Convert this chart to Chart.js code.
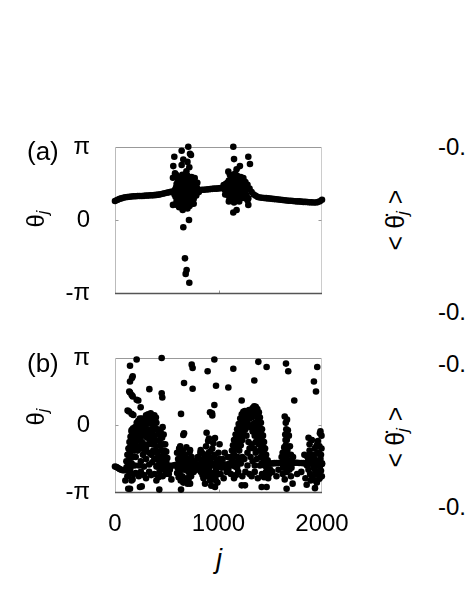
<!DOCTYPE html>
<html>
<head>
<meta charset="utf-8">
<script src="https://cdn.jsdelivr.net/npm/chart.js@4.4.0/dist/chart.umd.min.js"></script>
<style>
body { margin: 0; background: #fff; }
#page { position: relative; width: 469px; height: 607px; overflow: hidden; font-family: "Liberation Sans", Arial, sans-serif; color: #000; }
.box { position: absolute; left: 0; }
.lbl { position: absolute; white-space: nowrap; line-height: 1; }
.rot { transform: translate(-50%, -50%) rotate(-90deg); }
.lbl sub { font-size: 0.68em; vertical-align: -0.25em; }
</style>
</head>
<body>
<div id="page">
  <div class="box" style="top:120px"><canvas id="chartA" width="360" height="190"></canvas></div>
  <div class="box" style="top:330px"><canvas id="chartB" width="360" height="210"></canvas></div>

  <div class="lbl" style="left:27px;top:138px;font-size:26px">(a)</div>
  <div class="lbl" style="left:27px;top:350px;font-size:26px">(b)</div>
  <div class="lbl rot" style="left:37px;top:219px;font-size:24px">θ<sub><i>j</i></sub></div>
  <div class="lbl rot" style="left:37px;top:417px;font-size:24px">θ<sub><i>j</i></sub></div>
  <div class="lbl" style="left:216px;top:546px;font-size:27px;font-style:italic">j</div>

  <div class="lbl rot" style="left:397px;top:220px;font-size:25px">&lt; θ&#775;<sub><i>j</i></sub> &gt;</div>
  <div class="lbl rot" style="left:397px;top:437px;font-size:25px">&lt; θ&#775;<sub><i>j</i></sub> &gt;</div>
  <div class="lbl" style="left:438px;top:135px;font-size:24px">-0.</div>
  <div class="lbl" style="left:438px;top:300px;font-size:24px">-0.</div>
  <div class="lbl" style="left:438px;top:352px;font-size:24px">-0.</div>
  <div class="lbl" style="left:438px;top:495px;font-size:24px">-0.</div>
</div>

<script>
// axes
const xTicks = [0, 1000, 2000];
const yTickValues = [-Math.PI, 0, Math.PI];
const yTickLabels = ['-π', '0', 'π'];

// panel (a): smooth band of oscillators [j, theta]
const aBaseline = [
  [0,0.82],[20,0.86],[40,0.9],[60,0.93],[80,0.96],[100,0.98],[120,0.99],[140,1.0],[160,1.01],[180,1.02],
  [200,1.02],[220,1.03],[240,1.03],[260,1.03],[280,1.04],[300,1.05],[320,1.05],[340,1.06],[360,1.06],[380,1.07],
  [400,1.08],[420,1.09],[440,1.11],[460,1.13],[480,1.15],[500,1.17],[520,1.19],[540,1.21],[560,1.22],[580,1.23],
  [600,1.24],[620,1.25],[640,1.25],[660,1.26],[680,1.26],[700,1.27],[720,1.27],[740,1.28],[760,1.28],[780,1.29],
  [800,1.29],[820,1.29],[840,1.3],[860,1.3],[880,1.31],[900,1.32],[920,1.33],[940,1.34],[960,1.35],[980,1.35],
  [1000,1.36],[1020,1.37],[1040,1.38],[1060,1.39],[1080,1.4],[1100,1.41],[1120,1.42],[1140,1.43],[1160,1.44],[1180,1.45],
  [1200,1.47],[1220,1.5],[1240,1.58],[1260,1.63],[1280,1.52],[1300,1.35],[1320,1.2],[1340,1.1],[1360,1.04],[1380,0.99],
  [1400,0.97],[1420,0.96],[1440,0.95],[1460,0.94],[1480,0.93],[1500,0.92],[1520,0.91],[1540,0.9],[1560,0.89],[1580,0.88],
  [1600,0.87],[1620,0.86],[1640,0.85],[1660,0.84],[1680,0.83],[1700,0.83],[1720,0.82],[1740,0.81],[1760,0.8],[1780,0.8],
  [1800,0.79],[1820,0.78],[1840,0.78],[1860,0.77],[1880,0.76],[1900,0.76],[1920,0.75],[1940,0.75],[1960,0.77],[1980,0.81],[2000,0.87]
];
// panel (a): incoherent clusters
const aCluster1 = [
  [585,1.0],[590,1.4],[595,0.8],[600,1.2],[605,1.6],[610,0.9],[615,1.3],[620,1.05],[625,1.7],[630,0.75],
  [635,1.15],[640,1.45],[645,0.95],[650,1.25],[655,1.85],[660,0.7],[665,1.1],[670,1.5],[675,0.9],[680,1.3],
  [685,1.65],[690,1.0],[695,1.4],[700,0.8],[705,1.2],[710,1.55],[715,1.0],[720,1.35],[725,1.75],[730,0.9],
  [735,1.2],[740,1.5],[745,1.05],[750,1.35],[755,1.65],[760,1.1],[765,1.45],[770,1.25],[775,1.55],[780,1.2],
  [790,1.4],[800,1.3],[600,0.65],[640,0.6],[680,0.55],[720,0.6],[610,1.75],[650,1.95],[700,1.9],[740,1.85],
  [770,1.8],[590,1.95],
  [580,1.3],[595,1.55],[605,1.05],[615,0.85],[625,1.35],[635,0.95],[645,1.65],[655,1.05],[665,1.35],[675,1.7],
  [685,0.85],[695,1.2],[705,1.6],[715,1.45],[725,1.1],[735,0.8],[745,1.6],[755,0.95],[765,1.2],[785,1.05],
  [795,1.6],[620,1.85],[680,1.9],[760,1.75],[575,1.1],[810,1.2],[700,0.65],[650,0.8],[760,0.7]
];
const aCluster2 = [
  [1060,1.3],[1070,1.55],[1080,1.1],[1090,1.4],[1100,1.7],[1105,1.0],[1115,1.25],[1120,1.55],[1130,0.9],[1135,1.35],
  [1140,1.75],[1150,1.1],[1155,1.45],[1165,0.85],[1170,1.3],[1175,1.6],[1185,1.05],[1190,1.4],[1200,1.7],[1205,1.15],
  [1215,1.5],[1220,0.95],[1230,1.3],[1235,1.6],[1245,1.15],[1250,1.45],[1260,1.25],[1270,1.05],[1280,0.85],[1100,0.8],
  [1150,0.75],[1200,0.8],[1240,1.8],[1120,1.85],[1180,1.9],
  [1050,1.5],[1065,1.1],[1075,1.35],[1085,1.6],[1095,1.2],[1110,1.45],[1125,1.1],[1135,1.6],[1145,1.3],[1160,1.65],
  [1170,1.0],[1180,1.5],[1195,1.2],[1210,1.35],[1225,1.7],[1240,1.35],[1255,1.6],[1265,1.45],[1275,1.3],[1130,1.9],
  [1215,1.85],[1110,0.9],[1250,0.95],[1190,0.85]
];
const aOutliers = [
  [708,3.15],[644,2.98],[734,2.8],[725,2.85],[573,2.72],[563,2.32],[644,2.37],[718,2.27],[580,2.01],[686,1.94],
  [660,2.6],[700,2.5],[690,2.1],[560,1.82],[715,0.0],[660,-0.31],[676,-1.65],[683,-2.32],[692,-2.15],[718,-2.7],
  [560,0.65],[654,0.43],[740,0.7],[760,0.9],[620,0.55],[700,0.5],
  [1143,3.15],[1150,2.62],[1288,2.72],[1304,2.41],[1207,2.32],[1175,2.18],[1095,2.08],[1143,0.32],[1175,0.43],[1288,0.65],
  [1288,0.93],[1110,1.95],[1160,2.0]
];

// panel (b)
const bBaseline = [
  [0,-1.95],[15,-1.97],[30,-2.02],[45,-2.06],[60,-2.1],[75,-2.12],[90,-2.12],[105,-2.1],[120,-2.0],
  [500,-1.88],[520,-1.9],[540,-1.92],[560,-1.9],[580,-1.88],[600,-1.86],[620,-1.85],[640,-1.85],[660,-1.86],[680,-1.87],
  [700,-1.86],[720,-1.85],[740,-1.84],[760,-1.84],[780,-1.85],[800,-1.86],[820,-1.86],[840,-1.85],[860,-1.85],[880,-1.86],
  [900,-1.86],[920,-1.85],[940,-1.84],[960,-1.84],[980,-1.85],[1000,-1.86],[1020,-1.86],[1040,-1.85],[1060,-1.85],[1080,-1.86],
  [1100,-1.86],[1120,-1.85],
  [1500,-1.82],[1520,-1.8],[1540,-1.79],[1560,-1.79],[1580,-1.78],[1600,-1.78],[1620,-1.78],[1640,-1.79],[1660,-1.8],[1680,-1.8],
  [1700,-1.79],[1720,-1.78],[1740,-1.77],[1760,-1.77],[1780,-1.78],[1800,-1.78],[1820,-1.79],[1840,-1.8],[1860,-1.8],[1880,-1.8],
  [1900,-1.8],[1920,-1.81],[1940,-1.82],[1960,-1.82],[1980,-1.82],[2000,-1.83]
];
const bHump1 = [
  [130,-1.9],[140,-1.6],[150,-1.3],[160,-1.0],[170,-0.75],[185,-0.5],[200,-0.3],[215,-0.1],[230,0.05],[245,0.15],
  [110,-1.7],[120,-1.4],[130,-1.1],[140,-0.8],[150,-0.55],[160,-0.3],[175,-0.15],
  [160,-1.8],[175,-1.5],[190,-1.2],[205,-0.95],[220,-0.7],[235,-0.45],[250,-0.2],[265,0.0],
  [280,0.15],[295,0.25],[310,0.3],[325,0.38],[340,0.4],[355,0.35],[370,0.3],[385,0.2],[400,0.1],
  [270,-0.2],[290,-0.05],[310,0.05],[330,0.1],[350,0.1],[370,0.0],[390,-0.15],
  [280,-0.5],[300,-0.35],[320,-0.25],[345,-0.2],[365,-0.3],
  [410,-0.2],[420,-0.45],[430,-0.7],[440,-0.95],[450,-1.2],[460,-1.45],[470,-1.65],[480,-1.8],
  [380,-0.5],[390,-0.75],[400,-1.0],[410,-1.25],[420,-1.5],[430,-1.75],
  [440,-0.3],[455,-0.6],[465,-0.9],[475,-1.2],[485,-1.5],[495,-1.7],
  [200,-1.5],[220,-1.2],[240,-1.0],[260,-0.8],[280,-0.9],[300,-1.1],[320,-0.9],[340,-0.7],[360,-0.9],[370,-1.2],
  [350,-1.4],[330,-1.3],[300,-1.6],[270,-1.4],[250,-1.7],[230,-1.9],[280,-1.95],[330,-1.85],[380,-1.6],[400,-1.95],[360,-1.75],
  [120,-2.4],[140,-2.3],[160,-2.6],[180,-2.3],[250,-2.2],[280,-2.35],[300,-2.5],[330,-2.2],[380,-2.3],[400,-2.6],
  [430,-2.2],[460,-2.4],[480,-2.1],[100,-2.6],
  [125,-1.9],[135,-1.35],[145,-1.05],[155,-0.8],[165,-0.55],[180,-0.35],[195,-0.1],[210,0.1],[225,0.2],[240,0.3],
  [255,0.1],[180,-1.0],[195,-0.75],[210,-0.5],[225,-0.3],[240,-0.6],[255,-0.45],[265,-1.1],[285,-1.2],[310,-0.6],
  [330,-0.5],[350,-0.55],[375,-0.7],[395,-1.3],[405,-1.6],[415,-1.9],[440,-1.5],[450,-1.85],[460,-0.1],[470,-0.45],
  [485,-0.9],[495,-1.25],[505,-1.55],[300,0.45],[320,0.5],[345,0.55],[260,0.3],[380,0.45],[395,0.35],[110,-2.0],
  [150,-2.0],[190,-1.9],[440,-1.95],[470,-1.95],[145,-2.2],[200,-2.25],[230,-2.4],[350,-2.35],[420,-2.45],[450,-2.05],
  [490,-2.3],[170,-2.55]
];
const bHump2 = [
  [1110,-1.8],[1120,-1.5],[1130,-1.2],[1140,-0.95],[1150,-0.7],[1165,-0.45],[1180,-0.2],[1195,0.05],[1210,0.3],[1225,0.5],
  [1140,-1.7],[1150,-1.4],[1160,-1.1],[1170,-0.85],[1185,-0.6],[1200,-0.35],[1215,-0.1],[1230,0.15],[1245,0.4],
  [1170,-1.8],[1185,-1.5],[1200,-1.2],[1215,-0.95],[1230,-0.7],[1245,-0.45],[1260,-0.2],[1270,0.1],
  [1240,0.62],[1255,0.65],[1270,0.55],[1285,0.5],[1300,0.6],[1315,0.7],[1330,0.8],[1345,0.88],[1360,0.85],[1375,0.75],[1390,0.6],
  [1280,0.25],[1300,0.3],[1320,0.35],[1340,0.4],[1360,0.45],[1380,0.3],[1290,0.0],[1310,-0.1],[1335,0.05],[1355,0.1],[1375,0.0],
  [1400,0.35],[1410,0.1],[1420,-0.2],[1430,-0.5],[1440,-0.8],[1450,-1.1],[1460,-1.4],[1475,-1.65],[1490,-1.8],
  [1370,-0.3],[1380,-0.6],[1390,-0.9],[1400,-1.2],[1410,-1.5],[1420,-1.8],
  [1350,-0.5],[1360,-0.8],[1345,-1.1],[1360,-1.3],[1370,-1.6],
  [1270,-0.5],[1290,-0.8],[1300,-1.1],[1320,-0.9],[1280,-1.3],[1310,-1.5],[1250,-1.6],[1330,-1.7],[1280,-1.9],[1330,-0.3],
  [1120,-2.3],[1150,-2.5],[1190,-2.2],[1230,-2.4],[1260,-2.2],[1300,-2.3],[1350,-2.2],[1380,-2.5],[1420,-2.3],[1460,-2.2],[1480,-2.5],
  [1125,-1.9],[1135,-1.65],[1145,-1.25],[1155,-1.0],[1165,-0.75],[1175,-0.5],[1190,-0.25],[1205,-0.05],[1220,0.25],[1235,0.35],
  [1250,0.5],[1265,0.35],[1190,-0.95],[1205,-0.7],[1220,-0.45],[1240,-0.2],[1255,0.05],[1280,0.6],[1295,0.7],[1310,0.5],
  [1325,0.6],[1340,0.65],[1355,0.7],[1370,0.6],[1385,0.45],[1395,0.15],[1405,-0.15],[1415,-0.45],[1425,-0.75],[1435,-1.05],
  [1445,-1.35],[1455,-1.6],[1470,-1.85],[1385,-0.15],[1395,-0.45],[1405,-0.75],[1415,-1.05],[1425,-1.35],[1435,-1.6],[1445,-1.9],
  [1360,-0.1],[1350,-1.9],[1230,-1.5],[1215,-1.8],[1200,-1.65],[1160,-1.95],[1180,-2.0],[1400,-1.9],[1460,-1.95],[1500,-2.1],
  [1490,-2.3],[1170,-2.35],[1320,-2.4],[1440,-2.45]
];
const bClusters = [
  [600,-1.3],[610,-1.6],[620,-1.1],[625,-2.2],[635,-1.45],[640,-1.8],[650,-2.4],[655,-1.2],[665,-1.65],[670,-2.1],
  [680,-1.4],[690,-2.5],[695,-1.9],[705,-1.6],[710,-2.2],[720,-1.3],[730,-1.75],[735,-2.4],[745,-2.05],[615,-2.45],
  [660,-2.7],[700,-2.75],[630,-1.0],[690,-1.05],
  [605,-2.0],[620,-1.75],[645,-1.35],[655,-2.05],[675,-1.85],[685,-1.55],[700,-2.1],[715,-1.85],[725,-2.3],[740,-1.5],
  [750,-1.95],[760,-2.2],[635,-2.6],[710,-2.55],[600,-2.25],[770,-1.7],
  [820,-1.6],[830,-2.2],[840,-1.3],[850,-1.9],[855,-2.5],[865,-1.5],[875,-2.1],[880,-1.0],[890,-1.7],[895,-2.4],
  [905,-1.3],[910,-2.0],[920,-2.6],[925,-1.6],[935,-2.25],[940,-1.1],[950,-1.85],[960,-2.45],[965,-1.4],[975,-2.1],
  [985,-1.65],[990,-2.7],[1000,-1.3],[1005,-2.3],[870,-2.75],[930,-2.85],[950,-0.85],[900,-0.75],[1010,-0.9],
  [815,-2.0],[825,-1.3],[845,-2.35],[860,-1.75],[870,-2.3],[885,-1.4],[900,-2.2],[915,-1.55],[930,-1.9],[945,-2.5],
  [955,-1.5],[970,-1.8],[980,-2.35],[995,-1.95],[1010,-1.6],[890,-2.0],[860,-2.05],[920,-1.25],[975,-2.6],[1030,-2.0],
  [1040,-1.6],[1070,-2.0],[1095,-2.1],[790,-2.1],[800,-1.5],
  [520,-2.3],[545,-2.55],[530,-2.1],[1020,-2.3],[1050,-2.5],[1080,-2.2],[1060,-1.3],[1090,-1.5],
  [1640,0.4],[1650,0.1],[1655,-0.2],[1645,-0.45],[1660,-0.7],[1650,-0.95],[1665,-1.2],[1655,-1.45],[1670,-1.65],[1680,-0.5],
  [1690,-1.0],[1700,-1.4],[1620,-1.3],[1630,-1.6],[1710,-1.7],[1620,-2.3],[1660,-2.2],[1700,-2.4],[1640,-2.55],
  [1610,-1.5],[1625,-2.0],[1645,-1.7],[1660,-1.95],[1675,-1.4],[1685,-2.1],[1695,-1.75],[1705,-2.0],[1720,-1.5],[1648,-0.7],
  [1662,0.25],[1670,-0.25],[1635,-1.05],
  [1860,-1.5],[1870,-2.1],[1880,-1.2],[1890,-1.8],[1900,-0.7],[1905,-2.4],[1915,-1.4],[1920,-2.0],[1930,-1.1],[1940,-1.65],
  [1945,-2.3],[1955,-0.9],[1960,-1.9],[1970,-1.3],[1975,-2.5],[1985,-1.6],[1990,-2.15],[1995,-0.5],[2000,-1.8],[1985,-0.3],
  [1890,-2.6],[1950,-2.7],[1995,-1.1],
  [1855,-1.9],[1865,-1.7],[1875,-1.45],[1885,-2.3],[1895,-1.55],[1910,-1.75],[1925,-1.6],[1935,-2.15],[1950,-1.35],[1965,-2.2],
  [1980,-1.95],[1990,-1.4],[1998,-2.4],[1915,-2.55],[1960,-0.75],[1975,-1.0],[1945,-1.0],[1880,-0.9],[1870,-0.6],
  [1520,-2.2],[1560,-2.4],[1580,-2.1],[1800,-2.2],[1760,-2.3],[1830,-1.4],[1840,-2.5]
];
const bOutliers = [
  [209,3.07],[451,3.14],[145,2.78],[741,2.83],[750,2.67],[960,3.07],[895,2.52],[171,2.28],[145,2.04],[667,1.97],
  [750,1.7],[976,1.84],[332,1.68],[451,1.49],[457,1.29],[145,1.52],[171,1.34],[225,1.15],[248,0.83],[135,0.63],
  [177,0.47],[638,0.52],[918,0.6],[960,0.94],[161,-0.24],[667,-0.39],[885,-0.36],[908,-0.63],[828,-1.18],[725,-1.18],
  [145,-2.99],[241,-2.91],[428,-3.03],[638,-3.03],[725,-2.75],[966,-2.91],
  [1385,2.96],[1465,2.72],[1652,2.88],[1674,2.52],[1954,2.72],[1143,2.64],[1346,2.09],[1095,1.76],[1922,2.04],[1942,1.57],
  [1224,1.15],[1732,1.15],[966,-0.61],[1900,-0.71],[1980,-0.39],
  [1224,-2.83],[1256,-2.83],[1417,-2.91],[1465,-2.91],[1716,-2.75],[1658,-2.99],[1852,-2.8],[1932,-2.96],[1974,-2.52],
  [164,2.2],[138,1.57],[161,1.41],[209,1.18],[122,0.68],[161,0.52],[937,0.55],[940,0.45],[660,-0.47],[128,-2.99],
  [258,-2.88],[1948,-2.67]
];

const tickFont = { family: '"Liberation Sans", Arial, sans-serif', size: 24 };

function seg(ctx, x1, y1, x2, y2, color) {
  ctx.strokeStyle = color;
  ctx.beginPath();
  ctx.moveTo(x1, y1);
  ctx.lineTo(x2, y2);
  ctx.stroke();
}

// box around the plot with small inward ticks
const framePlugin = {
  id: 'frame',
  beforeDatasetsDraw(chart) {
    const ctx = chart.ctx;
    const a = chart.chartArea;
    const l = Math.round(a.left) + 0.5, r = Math.round(a.right) - 0.5;
    const t = Math.round(a.top) + 0.5, b = Math.round(a.bottom) + 0.5;
    ctx.save();
    ctx.lineWidth = 1;
    seg(ctx, l, t, r, t, '#999');
    seg(ctx, l, t, l, b, '#bbb');
    seg(ctx, r, t, r, b, '#ccc');
    const y0 = Math.round(chart.scales.y.getPixelForValue(0)) + 0.5;
    seg(ctx, l, y0, l + 3, y0, '#999');
    seg(ctx, r - 3, y0, r, y0, '#999');
    const x1 = Math.round(chart.scales.x.getPixelForValue(1000)) + 0.5;
    seg(ctx, x1, b, x1, b - 3, '#999');
    ctx.lineWidth = 1.5;
    seg(ctx, l - 0.5, b, r + 0.5, b, '#555');
    ctx.restore();
  }
};

function toXY(list) {
  return list.map(p => ({ x: p[0], y: p[1] }));
}

function makeChart(id, points, showX, padTop, xHeight) {
  return new Chart(document.getElementById(id), {
    type: 'scatter',
    data: {
      datasets: [{
        data: toXY(points),
        pointRadius: 3.3,
        pointBackgroundColor: '#000',
        pointBorderWidth: 0,
        clip: false
      }]
    },
    options: {
      responsive: false,
      animation: false,
      events: [],
      layout: { padding: { left: 0, right: 38, top: padTop, bottom: 0 } },
      plugins: { legend: { display: false }, tooltip: { enabled: false } },
      scales: {
        x: {
          type: 'linear', min: 0, max: 2000,
          afterBuildTicks: s => { s.ticks = xTicks.map(v => ({ value: v })); },
          afterFit: s => { s.height = xHeight; s.paddingLeft = 0; s.paddingRight = 0; },
          grid: { display: false },
          border: { display: false },
          ticks: { display: showX, autoSkip: false, maxRotation: 0, padding: 10, color: '#000', font: tickFont,
                   callback: v => String(v) }
        },
        y: {
          type: 'linear', min: -Math.PI, max: Math.PI,
          afterBuildTicks: s => { s.ticks = yTickValues.map(v => ({ value: v })); },
          // no label overflow padding, so the plot box stays where it is in the figure
          afterFit: s => { s.width = 115; s.paddingTop = 0; s.paddingBottom = 0; },
          grid: { display: false },
          border: { display: false },
          ticks: { autoSkip: false, padding: 17, color: '#000', font: tickFont, callback: (v, i) => yTickLabels[i] }
        }
      }
    },
    plugins: [framePlugin]
  });
}

makeChart('chartA', aBaseline.concat(aCluster1, aCluster2, aOutliers), false, 27, 17);
makeChart('chartB', bBaseline.concat(bHump1, bHump2, bClusters, bOutliers), true, 28, 48);
</script>
</body>
</html>
